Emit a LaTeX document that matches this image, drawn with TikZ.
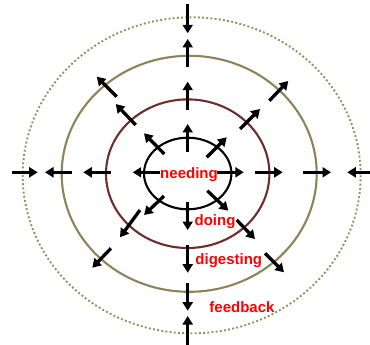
\documentclass[tikz,border=0pt]{standalone}
\usepackage{fontspec}
\setmainfont{Liberation Sans}
\usetikzlibrary{arrows.meta}
\definecolor{ringbrown}{HTML}{6E2C2C}
\definecolor{ringolive}{HTML}{8E8258}
\definecolor{ringdot}{HTML}{9C8C5C}
\definecolor{labelred}{HTML}{FF0000}
\tikzset{
  arrowline/.style={line width=3.3pt, -{Triangle[length=8.5pt,width=10pt]}},
  ringline/.style={line width=2.1pt},
  lbl/.style={text=labelred, font=\fontsize{15}{17}\selectfont\bfseries, inner sep=0pt}
}
\begin{document}
\begin{tikzpicture}[x=1pt,y=-1pt]
\useasboundingbox (0,0) rectangle (370,345);
% rings
\draw[ringline, black] (187.7,173.5) ellipse [x radius=43.7, y radius=35.8];
\draw[ringline, ringbrown] (187.7,173.7) ellipse [x radius=81.7, y radius=74.3];
\draw[ringline, ringolive] (189.2,173.8) ellipse [x radius=127.5, y radius=118];
\draw[line width=1.9pt, ringdot, dash pattern=on 1.9pt off 2.3pt] (191.7,175.3) ellipse [x radius=169, y radius=158];
% horizontal arrows
\draw[arrowline] (11.7,172.3) -- (37.7,172.3);
\draw[arrowline] (71.7,172.3) -- (45,172.3);
\draw[arrowline] (111,172.3) -- (83.3,172.3);
\draw[arrowline] (160,172.3) -- (132.7,172.3);
\draw[arrowline] (217,172.3) -- (243.8,172.3);
\draw[arrowline] (255,172.3) -- (282.7,172.3);
\draw[arrowline] (303.3,172.3) -- (331,172.3);
\draw[arrowline] (370,172.3) -- (347.3,172.3);
% vertical arrows
\draw[arrowline] (187.7,4.3) -- (187.7,33.3);
\draw[arrowline] (187.7,66.7) -- (187.7,39);
\draw[arrowline] (187.7,110) -- (187.7,81.7);
\draw[arrowline] (187.7,151.7) -- (187.7,124);
\draw[arrowline] (187.7,201.7) -- (187.7,230);
\draw[arrowline] (187.7,245) -- (187.7,272.7);
\draw[arrowline] (187.7,282.7) -- (187.7,310.7);
\draw[arrowline] (187.7,345) -- (187.7,316);
% diagonal arrows, inner ring
\draw[arrowline] (164.3,154) -- (144,133.3);
\draw[arrowline] (206.7,157.3) -- (226.7,137.3);
\draw[arrowline] (164,196) -- (144,215);
\draw[arrowline] (207.3,190.7) -- (228.3,210.7);
% second ring
\draw[arrowline] (135.7,125) -- (115.7,104);
\draw[arrowline] (240,129) -- (260,109);
\draw[arrowline] (140,210) -- (120,237.3);
\draw[arrowline] (236.7,220) -- (255,239);
% third ring
\draw[arrowline] (116.7,96.7) -- (96.7,76.7);
\draw[arrowline] (269.3,100.7) -- (288.3,81);
\draw[arrowline] (111,248.3) -- (92.3,267.7);
\draw[arrowline] (265,253.3) -- (284,272.3);
% labels
\node[lbl] (needing) at (189,174.5) {needing};
\node[lbl] (doing) at (215,222) {doing};
\node[lbl] (digesting) at (228.8,260.5) {digesting};
\node[lbl] (feedback) at (242,307) {feedback};
\end{tikzpicture}
\end{document}
